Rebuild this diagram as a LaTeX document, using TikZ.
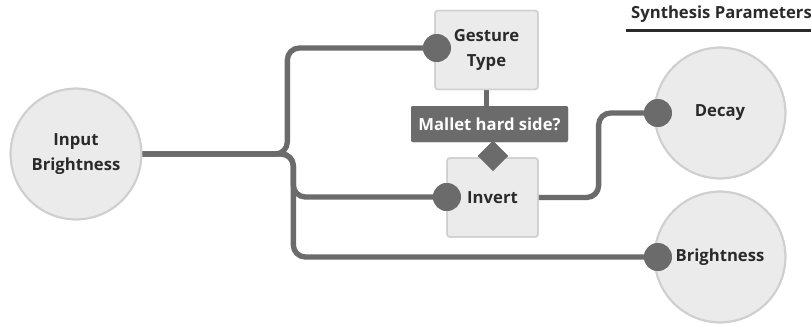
\documentclass[tikz,border=0pt]{standalone}
\usepackage{fontspec}
\setmainfont{Open Sans}
\usetikzlibrary{shapes.geometric}
\definecolor{wire}{HTML}{6B6B6B}
\definecolor{pale}{HTML}{EBEBEB}
\definecolor{rim}{HTML}{CFCFCF}
\definecolor{ink}{HTML}{2A2A2A}
\begin{document}
\begin{tikzpicture}[x=0.75pt,y=-0.75pt,
  txt/.style={font=\fontsize{12.5}{18.75}\selectfont\bfseries, text=ink, align=center},
  bigcirc/.style={circle, draw=rim, line width=1.5pt, fill=pale, minimum size=98pt, inner sep=0pt, txt},
  boxnode/.style={rectangle, rounded corners=2pt, draw=rim, line width=1.2pt, fill=pale, txt},
  port/.style={circle, fill=wire, minimum size=21pt, inner sep=0pt},
  wirepath/.style={draw=wire, line width=4pt, rounded corners=9pt},
  tag/.style={rectangle, rounded corners=1.5pt, fill=wire, text=white, font=\fontsize{12.5}{15}\selectfont\bfseries, minimum width=117.75pt, minimum height=27pt, inner sep=0pt},
  gem/.style={diamond, fill=wire, minimum size=23pt, inner sep=0pt}
]
\useasboundingbox (0,0) rectangle (811,325);
% nodes
\node[bigcirc] (in) at (76,154) {Input\\Brightness};
\node[boxnode, minimum width=77pt, minimum height=59pt] (gt) at (486.5,50) {Gesture\\Type};
\node[boxnode, minimum width=68pt, minimum height=59pt] (inv) at (492.5,197.5) {Invert};
\node[bigcirc] (dec) at (720,113) {Decay};
\node[bigcirc] (bri) at (720,257) {Brightness};
\node[tag] (lbl) at (489.5,124) {Mallet hard side?};
\node[gem] (gm) at (493,156) {};
% ports
\node[port] (gd) at (437,48) {};
\node[port] (id) at (447,197) {};
\node[port] (dd) at (658,113) {};
\node[port] (bd) at (658,257) {};
% wires
\path[wirepath] (in.east) -- ++(145,0) |- (gd.center);
\path[wirepath] (in.east) -- ++(151,0) |- (id.center);
\path[wirepath] (in.east) -- ++(151,0) |- (bd.center);
\path[wirepath] (inv.east) -- ++(60,0) |- (dd.center);
\draw[wire, line width=4pt] (gt.south) -- (gt.south |- lbl.north);
% redraw nodes on top of wires
\node[boxnode, minimum width=77pt, minimum height=59pt] at (gt) {Gesture\\Type};
\node[boxnode, minimum width=68pt, minimum height=59pt] at (inv) {Invert};
\node[bigcirc] at (dec) {Decay};
\node[bigcirc] at (bri) {Brightness};
\node[bigcirc] at (in) {Input\\Brightness};
\node[tag] at (lbl) {Mallet hard side?};
\node[gem] at (gm) {};
\node[port] at (gd) {};
\node[port] at (id) {};
\node[port] at (dd) {};
\node[port] at (bd) {};
% header
\node[txt, font=\fontsize{12.5}{14}\selectfont\bfseries, anchor=south] (hdr) at (721.5,27) {Synthesis Parameters};
\draw[ink, line width=1.8pt] (hdr.south west) ++(0,3.5) coordinate (ul) -- (hdr.south east |- ul);
\end{tikzpicture}
\end{document}
